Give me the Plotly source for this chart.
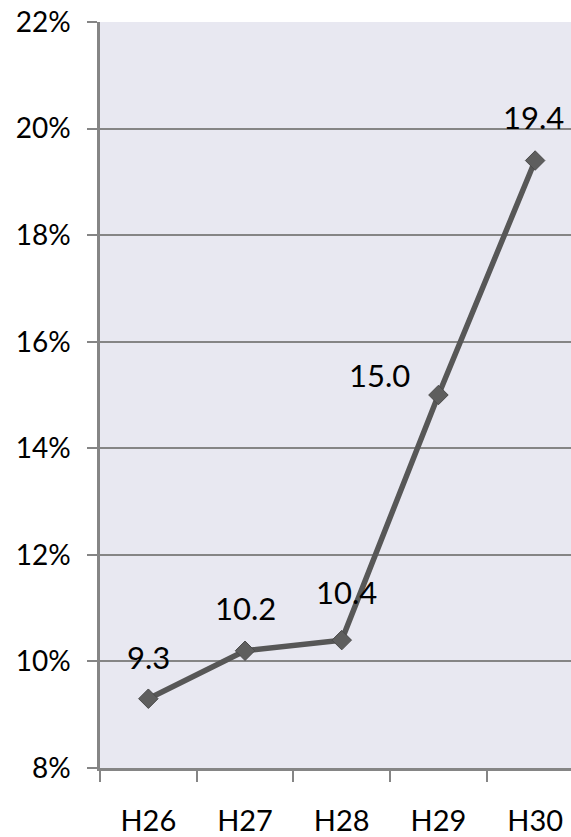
import plotly.graph_objects as go

categories = ["H26", "H27", "H28", "H29", "H30"]
values = [9.3, 10.2, 10.4, 15.0, 19.4]
value_labels = ["9.3", "10.2", "10.4", "15.0", "19.4"]
y_ticks = [8, 10, 12, 14, 16, 18, 20, 22]
y_tick_text = [f"{v}%" for v in y_ticks]

# label offsets (pixels) relative to each point
label_dx = [0, 0, 5, -59, -2]
label_dy = [42, 43, 48, 20, 44]

FONT = "Lato"
GRAY = "#858585"
LINE = "#575757"

fig = go.Figure()
fig.add_trace(go.Scatter(
    x=categories, y=values, mode="lines+markers",
    line=dict(color=LINE, width=5.5),
    marker=dict(symbol="diamond", size=15, color="#5e5e5e",
                line=dict(color="#4a4a4a", width=1)),
    showlegend=False, hoverinfo="skip",
))

for c, v, t, dx, dy in zip(categories, values, value_labels, label_dx, label_dy):
    fig.add_annotation(x=c, y=v, text=t, showarrow=False,
                       xshift=dx, yshift=dy,
                       font=dict(family=FONT, size=31, color="#000000"))

fig.update_layout(
    width=571, height=837,
    margin=dict(l=100, r=0, t=22, b=65),
    paper_bgcolor="#ffffff",
    plot_bgcolor="#e8e8f1",
    font=dict(family=FONT, size=28, color="#000000"),
)
fig.update_xaxes(
    type="category", range=[-0.5, 4.371],
    tickson="boundaries", ticks="outside", ticklen=11, tickwidth=2, tickcolor=GRAY,
    showline=True, linecolor=GRAY, linewidth=2.5,
    showgrid=False, zeroline=False,
    ticklabelstandoff=25,
    tickfont=dict(family=FONT, size=29),
)
fig.update_yaxes(
    range=[8, 22], tickmode="array", tickvals=y_ticks, ticktext=y_tick_text,
    ticks="outside", ticklen=10, tickwidth=2, tickcolor=GRAY,
    showline=True, linecolor=GRAY, linewidth=2.5,
    showgrid=True, gridcolor=GRAY, gridwidth=1.5,
    zeroline=False, ticklabelstandoff=11,
    tickfont=dict(family=FONT, size=28),
)

fig.write_html("out.html", config={"displayModeBar": False},
               post_script="document.body.style.margin='0';")
